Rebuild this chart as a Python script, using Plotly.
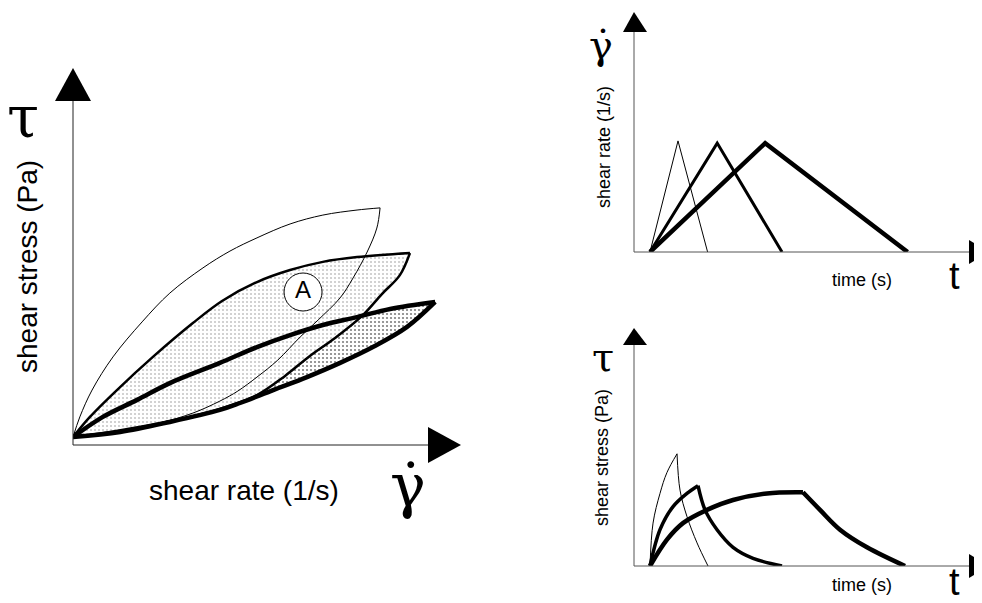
import plotly.graph_objects as go

W, H = 974, 595
OFF = 8  # default page margin of the html body

# ---------------- data ----------------
# Left panel: shear stress vs shear rate (arbitrary units)
thin_up_x = [0, 0.19, 0.53, 1.11, 1.92, 2.69, 3.61, 4.36, 5.11, 6.03, 6.94, 7.89, 8.53]
thin_up_y = [0.33, 1.17, 2.29, 3.67, 5.13, 6.33, 7.38, 8.08, 8.63, 9.21, 9.58, 9.79, 9.88]
thin_dn_x = [8.53, 8.44, 8.17, 7.78, 7.42, 6.81, 6.31, 5.69, 5.11, 4.58, 4.08, 3.33, 2.42, 1.31, 0]
thin_dn_y = [9.88, 9.04, 8.04, 6.96, 6.13, 5.21, 4.5, 3.54, 2.83, 2.25, 1.83, 1.33, 0.92, 0.58, 0.33]

med_up_x = [0, 0.47, 1.22, 2.22, 3.33, 4.14, 5.11, 6.03, 6.94, 7.89, 9.36]
med_up_y = [0.33, 1.17, 2.29, 3.67, 5.08, 6.0, 6.79, 7.29, 7.63, 7.83, 8.0]
med_dn_x = [9.36, 9.08, 8.58, 8.03, 7.28, 6.58, 5.89, 5.11, 4.17, 3.25, 2.14, 1.03, 0]
med_dn_y = [8.0, 7.08, 6.29, 5.38, 4.46, 3.71, 2.88, 2.08, 1.54, 1.17, 0.83, 0.54, 0.33]

thk_up_x = [0, 0.83, 1.78, 2.69, 4.08, 5.11, 6.03, 6.94, 7.89, 8.81, 10.06]
thk_up_y = [0.33, 1.17, 1.88, 2.58, 3.42, 4.08, 4.58, 5.0, 5.33, 5.67, 5.96]
thk_dn_x = [10.06, 9.28, 8.33, 7.42, 6.5, 5.56, 4.64, 4.08, 2.69, 1.31, 0]
thk_dn_y = [5.96, 4.92, 4.08, 3.42, 2.83, 2.29, 1.75, 1.46, 0.96, 0.54, 0.33]

label_A = "A"
label_A_pos = (6.39, 6.375)

# Top right: shear rate vs time (triangular ramps)
rate_thin_t = [1.0, 2.75, 4.6]
rate_thin_v = [0, 1.01, 0]
rate_med_t = [1.0, 5.2, 9.25]
rate_med_v = [0, 0.99, 0]
rate_thk_t = [1.0, 8.2, 17.1]
rate_thk_v = [0, 0.99, 0]

# Bottom right: shear stress vs time
str_thin_t = [1.0, 1.19, 1.625, 2.06, 2.69]
str_thin_v = [0, 0.39, 0.66, 0.85, 1.02]
str_thin_dn_t = [2.69, 2.875, 3.31, 3.94, 4.625]
str_thin_dn_v = [1.02, 0.69, 0.45, 0.21, 0]
str_med_t = [1.0, 1.625, 2.44, 3.31, 4.0]
str_med_v = [0, 0.33, 0.54, 0.66, 0.73]
str_med_dn_t = [4.0, 4.44, 5.19, 6.19, 7.44, 9.25]
str_med_dn_v = [0.73, 0.51, 0.33, 0.17, 0.07, 0]
str_thk_t = [1.0, 2.06, 3.06, 4.56, 6.19, 8.31, 10.56]
str_thk_v = [0, 0.24, 0.39, 0.51, 0.6, 0.66, 0.67]
str_thk_dn_t = [10.56, 11.625, 12.875, 14.56, 16.94]
str_thk_dn_v = [0.67, 0.51, 0.33, 0.17, 0]

# ---------------- helpers ----------------
def X(px):
    return (px - OFF) / W

def Y(py):
    return 1 - (py - OFF) / H

fig = go.Figure()

# fills (left panel)
fig.add_trace(go.Scatter(
    x=thk_up_x + thk_dn_x[1:], y=thk_up_y + thk_dn_y[1:],
    fill="toself", mode="lines", line=dict(width=0, shape="spline"),
    fillcolor="white",
    fillpattern=dict(shape=".", fgcolor="#000", bgcolor="white", size=4, solidity=0.22),
    xaxis="x", yaxis="y", hoverinfo="skip"))
fig.add_trace(go.Scatter(
    x=med_up_x + med_dn_x[1:], y=med_up_y + med_dn_y[1:],
    fill="toself", mode="lines", line=dict(width=0, shape="spline"),
    fillcolor="white",
    fillpattern=dict(shape=".", fgcolor="#888", bgcolor="white", size=4, solidity=0.2),
    xaxis="x", yaxis="y", hoverinfo="skip"))

def line(x, y, w, ax="x", ay="y"):
    fig.add_trace(go.Scatter(x=x, y=y, mode="lines",
                             line=dict(color="black", width=w, shape="spline", smoothing=1.0),
                             xaxis=ax, yaxis=ay, hoverinfo="skip"))

def pline(x, y, w, ax, ay):
    fig.add_trace(go.Scatter(x=x, y=y, mode="lines",
                             line=dict(color="black", width=w),
                             xaxis=ax, yaxis=ay, hoverinfo="skip"))

line(thin_up_x, thin_up_y, 1)
line(thin_dn_x, thin_dn_y, 1)
line(med_up_x, med_up_y, 2.5)
line(med_dn_x, med_dn_y, 2.5)
line(thk_up_x, thk_up_y, 4.5)
line(thk_dn_x, thk_dn_y, 4.5)

fig.add_trace(go.Scatter(
    x=[label_A_pos[0]], y=[label_A_pos[1]], mode="markers+text",
    marker=dict(size=38, color="white", line=dict(color="black", width=1)),
    text=[label_A], textposition="middle center",
    textfont=dict(family="Liberation Sans", size=24, color="black"),
    xaxis="x", yaxis="y", hoverinfo="skip"))

# top right
pline(rate_thin_t, rate_thin_v, 1, "x2", "y2")
pline(rate_med_t, rate_med_v, 3, "x2", "y2")
pline(rate_thk_t, rate_thk_v, 4.5, "x2", "y2")

# bottom right
line(str_thin_t, str_thin_v, 1, "x3", "y3")
line(str_thin_dn_t, str_thin_dn_v, 1, "x3", "y3")
line(str_med_t, str_med_v, 3.5, "x3", "y3")
line(str_med_dn_t, str_med_dn_v, 3.5, "x3", "y3")
line(str_thk_t, str_thk_v, 4.5, "x3", "y3")
line(str_thk_dn_t, str_thk_dn_v, 4.5, "x3", "y3")

# ---------------- axes (invisible, used for scaling) ----------------
hid = dict(visible=False, fixedrange=True)
fig.update_layout(
    xaxis=dict(domain=[X(73), X(460)], range=[0, (460 - 73) / 36], **hid),
    yaxis=dict(domain=[Y(445), Y(60)], range=[0, (445 - 60) / 24], **hid),
    xaxis2=dict(domain=[X(634), X(982)], range=[0, (982 - 634) / 16], anchor="y2", **hid),
    yaxis2=dict(domain=[Y(252), Y(8)], range=[0, (252 - 8) / 110], anchor="x2", **hid),
    xaxis3=dict(domain=[X(634), X(982)], range=[0, (982 - 634) / 16], anchor="y3", **hid),
    yaxis3=dict(domain=[Y(566), Y(320)], range=[0, (566 - 320) / 110], anchor="x3", **hid),
)

# ---------------- axis lines & arrows ----------------
shapes = []
def seg(x0, y0, x1, y1, color):
    shapes.append(dict(type="line", xref="paper", yref="paper",
                       x0=X(x0), y0=Y(y0), x1=X(x1), y1=Y(y1),
                       line=dict(color=color, width=1)))

def tri(pts):
    p = "M " + " L ".join(f"{X(a):.5f},{Y(b):.5f}" for a, b in pts) + " Z"
    shapes.append(dict(type="path", xref="paper", yref="paper", path=p,
                       fillcolor="black", line=dict(color="black", width=0)))

seg(73, 445, 73, 100, "#222")
tri([(55, 101), (91, 101), (73, 68)])
seg(73, 445, 429, 445, "#222")
tri([(428, 427), (428, 463), (461, 445)])

seg(634, 252, 634, 31, "#555")
tri([(623, 32), (647, 32), (634, 12)])
seg(634, 252, 970, 252, "#555")
tri([(969, 240), (969, 264), (989, 252)])

seg(634, 566, 634, 344, "#555")
tri([(623, 345), (647, 345), (634, 328)])
seg(634, 566, 970, 566, "#555")
tri([(969, 554), (969, 578), (989, 566)])

# ---------------- text ----------------
ann = []
def txt(s, x, y, size, fam="Liberation Sans", angle=0):
    ann.append(dict(text=s, x=X(x), y=Y(y), xref="paper", yref="paper",
                    xanchor="center", yanchor="middle", showarrow=False,
                    textangle=angle, font=dict(family=fam, size=size, color="black")))

txt("τ", 23, 117, 58, "DejaVu Serif")
txt("shear stress (Pa)", 27, 267, 28, angle=-90)
txt("shear rate (1/s)", 244, 490, 28)
txt("γ̇", 408, 486, 60, "DejaVu Serif")

txt("γ̇", 601, 45, 40, "DejaVu Serif")
txt("shear rate (1/s)", 604, 147, 18, angle=-90)
txt("time (s)", 862, 280, 18)
txt("t", 954, 276, 38)

txt("τ", 603, 357, 40, "DejaVu Serif")
txt("shear stress (Pa)", 602, 458, 18, angle=-90)
txt("time (s)", 862, 585, 18)
txt("t", 954, 582, 38)

fig.update_layout(
    width=W, height=H, margin=dict(l=0, r=0, t=0, b=0),
    paper_bgcolor="white", plot_bgcolor="white", showlegend=False,
    shapes=shapes, annotations=ann,
)

fig.write_html("out.html")
